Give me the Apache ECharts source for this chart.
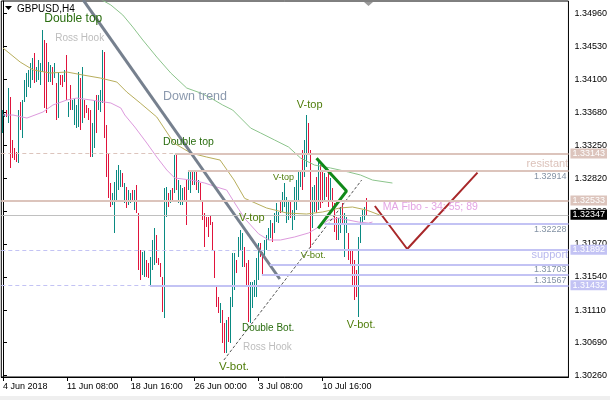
<!DOCTYPE html>
<html><head><meta charset="utf-8">
<script src="https://cdn.jsdelivr.net/npm/echarts@6/dist/echarts.min.js"></script>
<style>html,body{margin:0;padding:0;background:#fff}#c{width:610px;height:400px}</style>
</head><body><div id="c"></div><script>
const symbolName = 'GBPUSD,H4';
const xTickIdx = [0, 32, 64, 96, 128, 160];
const xTickLabels = ['4 Jun 2018', '11 Jun 08:00', '18 Jun 16:00', '26 Jun 00:00', '3 Jul 08:00', '10 Jul 16:00'];
const yTickValues = [1.30260, 1.30690, 1.31110, 1.31540, 1.31970, 1.32390, 1.32820, 1.33250, 1.33680, 1.34100, 1.34530, 1.34960];

const barHigh = [
1.3370,1.3366,1.3370,1.3399,1.3387,1.3332,1.3321,1.3316,1.3370,1.3381,
1.3383,1.3409,1.3418,1.3422,1.3431,1.3438,1.3444,1.3426,1.3435,1.3431,
1.3474,1.3461,1.3458,1.3433,1.3429,1.3426,1.3431,1.3405,1.3420,1.3416,
1.3416,1.3422,1.3442,1.3381,1.3403,1.3383,1.3386,1.3377,1.3420,1.3412,
1.3426,1.3383,1.3377,1.3373,1.3370,1.3354,1.3383,1.3390,1.3390,1.3396,
1.3448,1.3446,1.3351,1.3315,1.3276,1.3263,1.3277,1.3293,1.3299,1.3293,
1.3289,1.3276,1.3271,1.3267,1.3263,1.3267,1.3267,1.3273,1.3237,1.3189,
1.3186,1.3189,1.3176,1.3172,1.3180,1.3202,1.3217,1.3208,1.3179,1.3172,
1.3154,1.3270,1.3271,1.3263,1.3267,1.3270,1.3312,1.3315,1.3280,1.3273,
1.3270,1.3271,1.3280,1.3290,1.3290,1.3293,1.3290,1.3293,1.3280,1.3276,
1.3254,1.3237,1.3232,1.3232,1.3234,1.3225,1.3189,1.3144,1.3128,1.3120,
1.3111,1.3094,1.3098,1.3102,1.3128,1.3185,1.3185,1.3176,1.3206,1.3215,
1.3211,1.3193,1.3172,1.3176,1.3148,1.3148,1.3150,1.3179,1.3198,1.3198,
1.3186,1.3202,1.3208,1.3217,1.3228,1.3224,1.3237,1.3250,1.3238,1.3254,
1.3264,1.3276,1.3258,1.3251,1.3254,1.3241,1.3271,1.3280,1.3293,1.3293,
1.3319,1.3332,1.3364,1.3354,1.3319,1.3271,1.3273,1.3284,1.3303,1.3299,
1.3293,1.3289,1.3284,1.3289,1.3282,1.3270,1.3250,1.3232,1.3230,1.3245,
1.3250,1.3237,1.3232,1.3211,1.3189,1.3189,1.3176,1.3163,1.3206,1.3232,
1.3241,1.3245,1.3256];
const barLow = [
1.3341,1.3361,1.3361,1.3354,1.3295,1.3308,1.3306,1.3303,1.3302,1.3345,
1.3334,1.3381,1.3387,1.3400,1.3399,1.3409,1.3405,1.3407,1.3409,1.3403,
1.3420,1.3373,1.3367,1.3407,1.3407,1.3403,1.3412,1.3358,1.3360,1.3403,
1.3400,1.3407,1.3383,1.3361,1.3370,1.3370,1.3351,1.3347,1.3348,1.3345,
1.3354,1.3360,1.3367,1.3358,1.3310,1.3310,1.3321,1.3341,1.3370,1.3368,
1.3380,1.3334,1.3284,1.3256,1.3245,1.3247,1.3211,1.3254,1.3267,1.3271,
1.3271,1.3250,1.3244,1.3247,1.3250,1.3251,1.3241,1.3237,1.3163,1.3150,
1.3157,1.3154,1.3154,1.3153,1.3144,1.3163,1.3169,1.3172,1.3169,1.3154,
1.3109,1.3101,1.3232,1.3245,1.3250,1.3254,1.3263,1.3267,1.3250,1.3247,
1.3247,1.3254,1.3221,1.3267,1.3263,1.3273,1.3273,1.3267,1.3263,1.3251,
1.3228,1.3193,1.3219,1.3206,1.3221,1.3189,1.3153,1.3115,1.3107,1.3094,
1.3068,1.3055,1.3055,1.3070,1.3068,1.3115,1.3137,1.3159,1.3180,1.3189,
1.3167,1.3167,1.3144,1.3096,1.3094,1.3114,1.3128,1.3128,1.3150,1.3180,
1.3157,1.3180,1.3189,1.3202,1.3204,1.3199,1.3211,1.3225,1.3224,1.3237,
1.3238,1.3245,1.3224,1.3228,1.3230,1.3215,1.3228,1.3241,1.3254,1.3271,
1.3267,1.3284,1.3297,1.3312,1.3192,1.3217,1.3238,1.3237,1.3241,1.3244,
1.3250,1.3254,1.3258,1.3245,1.3254,1.3244,1.3212,1.3202,1.3202,1.3211,
1.3221,1.3180,1.3211,1.3176,1.3170,1.3144,1.3124,1.3128,1.3102,1.3198,
1.3224,1.3228,1.3234];
// T = bull bar (teal), R = bear bar (crimson)
const barDir = ('TTRTRRRRTR' + 'TTTTTTRTTT' + 'TRRTTRTRTR' + 'RTRTRTTTTR' + 'TRRRRTTRTT' +
  'TRRRRTTTTT' + 'RTRTTRTRRR' + 'TTRRTTTRRR' + 'RTTRTRTRTT' + 'TRRTTRTRTR' +
  'RRRRRRRRRT' + 'RRTRTTTRTT' + 'TRRRTTTTTR' + 'RTTTTRTTTR' + 'TTTTRTTTTT' +
  'RTTRRTTRTR' + 'RTRRTRRRTT' + 'RTTRRRRRTT' + 'TTR').split('');

const maFast = [[0,1.33641],[5,1.33641],[12,1.33602],[20,1.33680],[25,1.33771],[32,1.33836],[37,1.33861],[44,1.33836],[54,1.33797],[59,1.33732],[61,1.33641],[66,1.33485],[72,1.33278],[77,1.33096],[82,1.32928],[86,1.32824],[94,1.32798],[101,1.32759],[107,1.32707],[112,1.32668],[116,1.32500],[121,1.32300],[128,1.32100],[133,1.32020],[139,1.32020],[146,1.32059],[153,1.32111],[158,1.32188],[163,1.32279],[168,1.32305],[173,1.32279],[178,1.32253],[183,1.32240],[185,1.32253]];
const maMid = [[0,1.34510],[8.6,1.34328],[15.2,1.34225],[23.7,1.34186],[32,1.34199],[40,1.34160],[48.7,1.34121],[57,1.34069],[62,1.33939],[68.7,1.33797],[77,1.33615],[85.6,1.33278],[94,1.33148],[102,1.33096],[108.7,1.33057],[115.7,1.32798],[121,1.32560],[132,1.32435],[142,1.32370],[152,1.32357],[160,1.32383],[168.6,1.32435],[175,1.32448],[182,1.32409],[188.6,1.32344]];
const maSlow = [[47,1.35171],[54,1.35068],[60,1.34938],[65,1.34782],[70,1.34614],[77,1.34393],[84,1.34186],[92,1.33991],[99,1.33926],[104,1.33862],[110,1.33771],[115,1.33706],[124,1.33472],[129,1.33408],[136,1.33317],[143,1.33226],[149,1.33083],[156,1.32992],[164,1.32954],[173,1.32902],[179,1.32863],[185,1.32798],[195,1.32759]];

const downTrend = [[40.2,1.35132],[138.6,1.31514]];
const supportTrend = [[110.6,1.30463],[179.6,1.32798]];
const vPattern = [[157,1.33079],[172,1.32655],[157.8,1.32171]];
const projection = [[186.2,1.32461],[202.4,1.31903],[237.6,1.32893]];

const levelPrice = [1.33143, 1.32914, 1.32533, 1.32347, 1.32228, 1.31892, 1.31703, 1.31567, 1.31432];
const levelFrom  = [86, 92.6, -0.85, -0.85, 161, 153.6, 133.6, 129.6, 73.6];
const levelKind  = ['res','res','res','bid','sup','sup','sup','sup','sup'];
const levelTag   = ['box','text','box','box','text','box','text','text','box'];
const levelDashedLead = [true,false,false,false,false,true,false,false,true];

const annotations = [
  [20.65, 1.34886, 'Double top', 'pattL'],
  [26.15, 1.34640, 'Ross Hook', 'hook'],
  [80.15, 1.33887, 'Down trend', 'trend'],
  [147.15, 1.33771, 'V-top', 'vL'],
  [80.15, 1.33284, 'Double top', 'pattM'],
  [135.15, 1.32830, 'V-top', 'vS'],
  [118.15, 1.32305, 'V-top', 'vL'],
  [149.15, 1.31819, 'V-bot.', 'vM'],
  [119.65, 1.30878, 'Double Bot.', 'pattS'],
  [120.15, 1.30632, 'Ross Hook', 'hook'],
  [108.15, 1.30372, 'V-bot.', 'vXL'],
  [172.15, 1.30917, 'V-bot.', 'vL'],
  [190.15, 1.32441, 'MA Fibo - 34; 55; 89', 'fibo'],
  [283, 1.33012, 'resistant', 'resTxt'],
  [283, 1.31832, 'support', 'supTxt']
];

// ---- presentation ----
const X_MIN = -0.85, X_MAX = 283.15, Y_MIN = 1.30243, Y_MAX = 1.35120;
const FONT = '"Liberation Sans", Arial, sans-serif';
const UP = '#0a8a82', DOWN = '#e0143c';
const RES = '#dcc4bc', SUP = '#c3c3f4', BID = '#c0c0c0';
const annStyle = {
  pattL: {size: 12, color: '#2a6d0f'},
  pattM: {size: 10.5, color: '#2a6d0f'},
  pattS: {size: 10, color: '#2a6d0f'},
  vL: {size: 11, color: '#4f7d0a'},
  vS: {size: 9, color: '#4f7d0a'},
  vM: {size: 9.5, color: '#4f7d0a'},
  vXL: {size: 11.5, color: '#4f7d0a'},
  hook: {size: 10, color: '#bdbdbd'},
  trend: {size: 12.5, color: '#8b99ae'},
  fibo: {size: 10.5, color: '#e4a4e4'},
  resTxt: {size: 11, color: '#dcc2ba', align: 'right'},
  supTxt: {size: 11, color: '#b8b8ee', align: 'right'}
};

const bars = barHigh.map((h, i) => [i, h, barLow[i], barDir[i] === 'T' ? 1 : -1]);

const mlData = [];
levelPrice.forEach((p, i) => {
  const kind = levelKind[i];
  const col = kind === 'res' ? RES : kind === 'sup' ? SUP : BID;
  if (levelDashedLead[i]) {
    mlData.push([{coord: [X_MIN, p], lineStyle: {color: col, width: 1, type: [4, 3]}, label: {show: false}}, {coord: [levelFrom[i], p]}]);
  }
  let label;
  if (levelTag[i] === 'box') {
    label = {show: true, position: 'end', distance: 2, formatter: p.toFixed(5), color: '#fff',
      backgroundColor: kind === 'bid' ? '#000' : col, padding: [1, 2, 0, 2], fontSize: 9, fontFamily: FONT};
  } else {
    label = {show: true, position: 'insideEndBottom', distance: [2, 1], formatter: p.toFixed(5),
      color: '#8392a4', fontSize: 9, fontFamily: FONT};
  }
  mlData.push([{coord: [levelFrom[i], p], lineStyle: {color: col, width: kind === 'bid' ? 1 : 2, type: 'solid'}, label}, {coord: [X_MAX, p]}]);
});

const lineSeries = (data, color, width, extra) => Object.assign({
  type: 'line', data, showSymbol: false, symbol: 'none', silent: true, animation: false,
  lineStyle: {color, width}, z: 3
}, extra || {});

const chart = echarts.init(document.getElementById('c'), null, {renderer: 'canvas'});
chart.setOption({
  animation: false,
  backgroundColor: '#fff',
  textStyle: {fontFamily: FONT},
  title: {text: symbolName, left: 17, top: 4, padding: 0, textStyle: {fontSize: 10, fontWeight: 'normal', color: '#000', fontFamily: FONT}},
  grid: {left: 1, right: 41, top: 1, bottom: 23, show: true, borderColor: '#000', borderWidth: 1, backgroundColor: '#fff'},
  xAxis: {
    type: 'value', min: X_MIN, max: X_MAX, position: 'bottom',
    axisLine: {show: true, lineStyle: {color: '#000'}},
    axisTick: {show: true, length: 4, customValues: xTickIdx, lineStyle: {color: '#000'}},
    axisLabel: {customValues: xTickIdx, formatter: v => xTickLabels[xTickIdx.indexOf(Math.round(v))] || '',
      align: 'left', margin: 5, fontSize: 9, color: '#000', fontFamily: FONT},
    splitLine: {show: false}
  },
  yAxis: {
    type: 'value', min: Y_MIN, max: Y_MAX, position: 'right',
    axisLine: {show: true, lineStyle: {color: '#000'}},
    axisTick: {show: true, length: 4, customValues: yTickValues, lineStyle: {color: '#000'}},
    axisLabel: {customValues: yTickValues, formatter: v => v.toFixed(5), margin: 6, fontSize: 9, color: '#000', fontFamily: FONT},
    splitLine: {show: false}
  },
  graphic: [
    {type: 'polygon', shape: {points: [[5, 6], [12, 6], [8.5, 10]]}, style: {fill: '#000'}},
    {type: 'polygon', shape: {points: [[364, 2], [373, 2], [368.5, 6]]}, style: {fill: '#9a9a9a'}},
    {type: 'rect', shape: {x: 0, y: 396, width: 610, height: 4}, style: {fill: '#efefef'}}
  ],
  series: [
    {
      type: 'custom', data: bars, encode: {x: 0, y: [1, 2]}, silent: true, animation: false, z: 2,
      renderItem(params, api) {
        const i = api.value(0);
        const a = api.coord([i, api.value(1)]);
        const b = api.coord([i, api.value(2)]);
        const x = Math.floor(a[0]);
        const y1 = Math.round(a[1]), y2 = Math.round(b[1]);
        return {type: 'rect', shape: {x, y: y1, width: 1, height: Math.max(1, y2 - y1)},
          style: {fill: api.value(3) > 0 ? UP : DOWN}};
      },
      markLine: {symbol: 'none', silent: true, animation: false, data: mlData}
    },
    lineSeries(maSlow, '#8cc48c', 1),
    lineSeries(maMid, '#b8ae5c', 1),
    lineSeries(maFast, '#dd9add', 1),
    lineSeries(downTrend, '#76808e', 3),
    lineSeries(supportTrend, '#555', 1, {lineStyle: {color: '#555', width: 1, type: [3, 2]}}),
    lineSeries(vPattern, '#11891a', 3),
    lineSeries(projection, '#a8282a', 2),
    {
      type: 'custom', data: annotations.map(a => [a[0], a[1]]), encode: {x: 0, y: 1}, silent: true, animation: false, z: 5, clip: false,
      renderItem(params, api) {
        const a = annotations[params.dataIndex];
        const st = annStyle[a[3]];
        const p = api.coord([a[0], a[1]]);
        return {type: 'text', x: p[0], y: p[1], style: {text: a[2], fill: st.color,
          font: st.size + 'px ' + FONT, align: st.align || 'left', verticalAlign: 'middle'}};
      }
    }
  ]
});
</script></body></html>
